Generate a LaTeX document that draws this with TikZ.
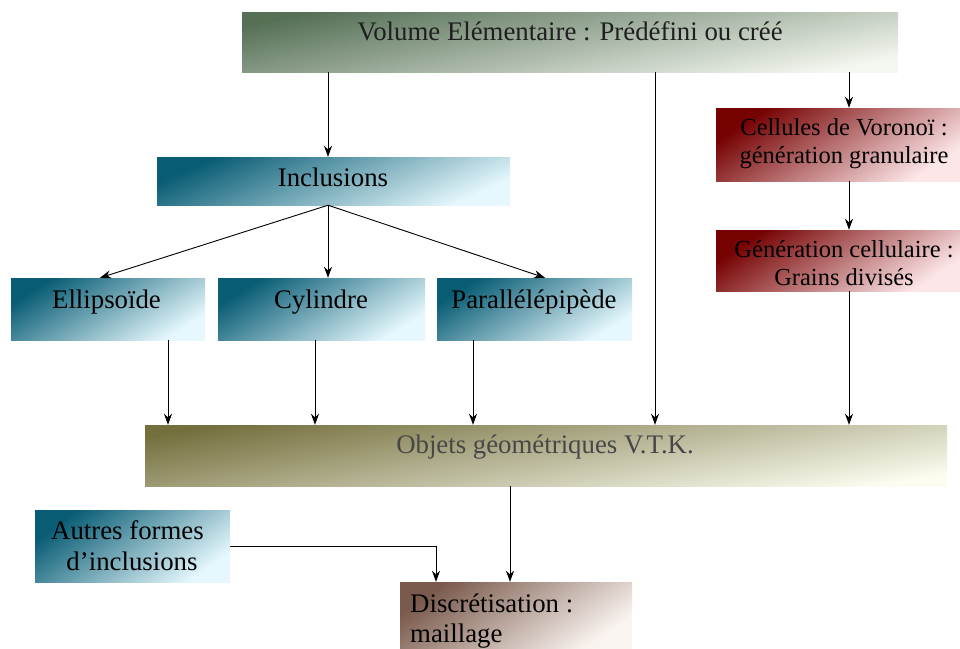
\documentclass[tikz,border=0pt]{standalone}
\usepackage{fontspec}
\setmainfont{Liberation Serif}
\usetikzlibrary{arrows.meta}
\definecolor{gDark}{RGB}{86,112,86}\definecolor{gLight}{RGB}{244,247,240}
\definecolor{tDark}{RGB}{8,92,116}\definecolor{tLight}{RGB}{230,248,253}
\definecolor{rDark}{RGB}{118,2,2}\definecolor{rLight}{RGB}{253,230,232}
\definecolor{oDark}{RGB}{116,112,62}\definecolor{oLight}{RGB}{252,252,240}
\definecolor{bDark}{RGB}{122,90,76}\definecolor{bLight}{RGB}{250,244,240}
\tikzset{
  box/.style={rectangle, inner sep=0pt, draw=none},
  gbox/.style={box, top color=gDark, bottom color=gLight, shading angle=11},
  tbox/.style={box, top color=tDark, bottom color=tLight, shading angle=32},
  rbox/.style={box, top color=rDark, bottom color=rLight, shading angle=34},
  obox/.style={box, top color=oDark, bottom color=oLight, shading angle=9},
  bbox/.style={box, top color=bDark, bottom color=bLight, shading angle=35},
  lbl/.style={anchor=base, inner sep=0pt, font=\fontsize{26.8}{29}\selectfont},
  slbl/.style={anchor=base, inner sep=0pt, font=\fontsize{24.5}{29}\selectfont},
  arr/.style={-{Stealth[length=11pt,width=8pt,inset=3.5pt]}, line width=0.9pt, black}
}
\begin{document}
\begin{tikzpicture}[x=1pt,y=-1pt]
\useasboundingbox (0,0) rectangle (960,648);
% boxes
\node[gbox, minimum width=656pt, minimum height=60pt] (top) at (570,42) {};
\node[tbox, shading angle=24, minimum width=353pt, minimum height=48pt] (incl) at (333.5,181) {};
\node[tbox, minimum width=194pt, minimum height=62pt] (ell) at (108,309) {};
\node[tbox, minimum width=207pt, minimum height=62pt] (cyl) at (321.5,309) {};
\node[tbox, minimum width=195pt, minimum height=62pt] (par) at (534.5,309) {};
\node[rbox, minimum width=244pt, minimum height=73pt] (vor) at (838,144.5) {};
\node[rbox, minimum width=244pt, minimum height=61pt] (gen) at (838,260.5) {};
\node[obox, minimum width=802pt, minimum height=61pt] (obj) at (546,455.5) {};
\node[tbox, shading angle=36, minimum width=195pt, minimum height=72pt] (aut) at (132.5,546) {};
\node[bbox, minimum width=232pt, minimum height=66pt] (dis) at (516,615) {};
% texts
\node[lbl, text=black!88] (ttop) at (570,40) {Volume Elémentaire : Prédéfini ou créé};
\node[lbl] (tincl) at (333,186) {Inclusions};
\node[lbl] (tell) at (106.5,308) {Ellipsoïde};
\node[lbl] (tcyl) at (321,308) {Cylindre};
\node[lbl] (tpar) at (534,308) {Parallélépipède};
\node[slbl] (tvor1) at (844,135) {Cellules de Voronoï :};
\node[slbl] (tvor2) at (844,163) {génération granulaire};
\node[slbl] (tgen1) at (844,257) {Génération cellulaire :};
\node[slbl] (tgen2) at (844,285) {Grains divisés};
\node[lbl, text=black!72] (tobj) at (545,453) {Objets géométriques V.T.K.};
\node[lbl] (taut1) at (127.5,539) {Autres formes};
\node[lbl] (taut2) at (132,570) {d’inclusions};
\node[lbl, anchor=base west] (tdis1) at (410,612) {Discrétisation :};
\node[lbl, anchor=base west] (tdis2) at (410,642) {maillage};
% connectors
\draw[arr] ([xshift=-5.5pt]incl.north |- top.south) -- ([xshift=-5.5pt]incl.north);
\draw[arr] ([xshift=109pt]obj.north |- top.south) -- ([xshift=109pt]obj.north);
\draw[arr] ([xshift=11pt]vor.north |- top.south) -- ([xshift=11pt]vor.north);
\draw[arr] ([xshift=11pt]vor.south) -- ([xshift=11pt]gen.north);
\draw[arr] ([xshift=11pt]gen.south) -- ([xshift=11pt]gen.south |- obj.north);
\draw[arr] ([xshift=-5.5pt]incl.south) -- ([xshift=-8pt]ell.north);
\draw[arr] ([xshift=-5.5pt]incl.south) -- ([xshift=6.5pt]cyl.north);
\draw[arr] ([xshift=-5.5pt]incl.south) -- ([xshift=10.5pt]par.north);
\draw[arr] ([xshift=60pt]ell.south) -- ([xshift=60pt]ell.south |- obj.north);
\draw[arr] ([xshift=-6.5pt]cyl.south) -- ([xshift=-6.5pt]cyl.south |- obj.north);
\draw[arr] ([xshift=-61.5pt]par.south) -- ([xshift=-61.5pt]par.south |- obj.north);
\draw[arr] ([xshift=-36pt]obj.south) -- ([xshift=-6pt]dis.north);
\draw[arr] (aut.east) -| ([xshift=-80pt]dis.north);
\end{tikzpicture}
\end{document}
